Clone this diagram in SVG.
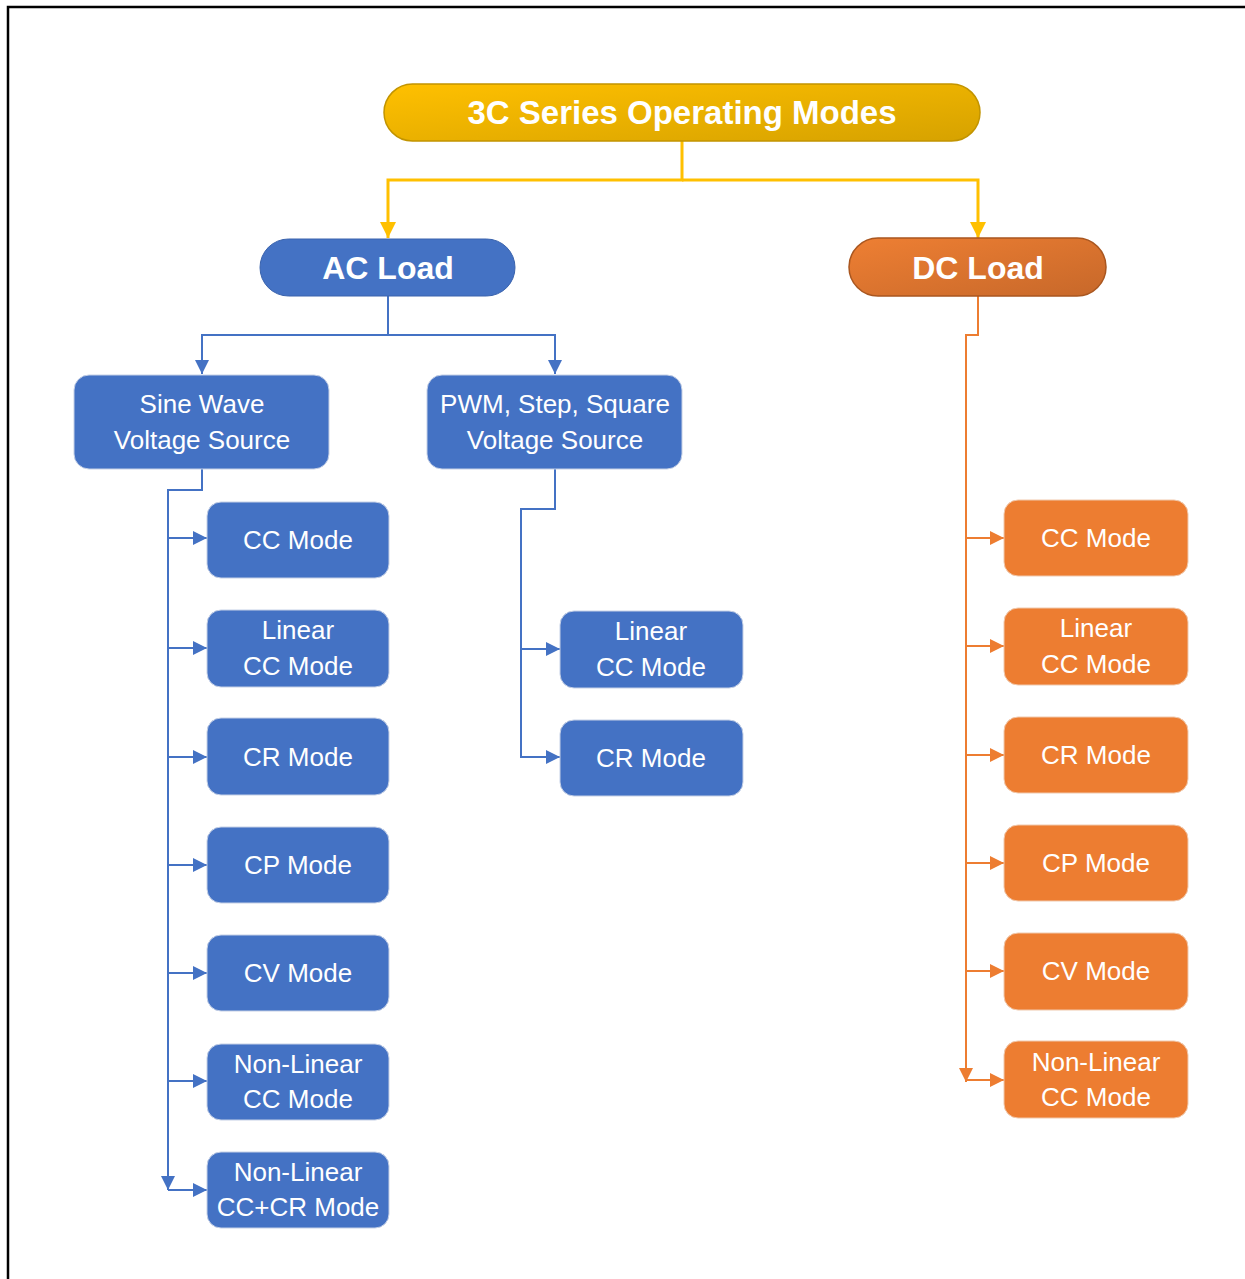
<svg xmlns="http://www.w3.org/2000/svg" width="1245" height="1279" viewBox="0 0 1245 1279">
<style>
.t{font-family:"Liberation Sans",Arial,sans-serif;fill:#fff;text-anchor:middle}
.n{font-size:26px}
.b{font-size:32px;font-weight:bold}
.blue{fill:#4472C4;stroke:#c5d0e6;stroke-width:1}
.org{fill:#ED7D31;stroke:#f0c9ad;stroke-width:1}
.cb{fill:none;stroke:#4472C4;stroke-width:2}
.co{fill:none;stroke:#ED7D31;stroke-width:2}
.cy{fill:none;stroke:#FFC000;stroke-width:3}
</style>
<defs>
<linearGradient id="gy" x1="0" y1="0" x2="1" y2="1">
<stop offset="0" stop-color="#FFC000"/><stop offset="1" stop-color="#D6A200"/>
</linearGradient>
<linearGradient id="go" x1="0" y1="0" x2="1" y2="1">
<stop offset="0" stop-color="#EE7F33"/><stop offset="1" stop-color="#C7682A"/>
</linearGradient>
<marker id="ab" markerUnits="userSpaceOnUse" markerWidth="14" markerHeight="14" refX="14" refY="7" orient="auto">
<path d="M0,0 L14,7 L0,14 z" fill="#4472C4"/>
</marker>
<marker id="ao" markerUnits="userSpaceOnUse" markerWidth="14" markerHeight="14" refX="14" refY="7" orient="auto">
<path d="M0,0 L14,7 L0,14 z" fill="#ED7D31"/>
</marker>
<marker id="ay" markerUnits="userSpaceOnUse" markerWidth="16" markerHeight="16" refX="16" refY="8" orient="auto">
<path d="M0,0 L16,8 L0,16 z" fill="#FFC000"/>
</marker>
</defs>
<rect width="1245" height="1279" fill="#fff"/>
<path d="M8,1279 V7 H1245" fill="none" stroke="#000" stroke-width="2.5"/>

<g id="connectors">
<path class="cy" d="M682,141 V180 H388 V238" marker-end="url(#ay)"/>
<path class="cy" d="M682,180 H978 V238" marker-end="url(#ay)"/>
<path class="cb" d="M388,296 V335 H202 V374" marker-end="url(#ab)"/>
<path class="cb" d="M388,335 H555 V374" marker-end="url(#ab)"/>
<path class="cb" d="M202,469 V490 H168 V1190" marker-end="url(#ab)"/>
<path class="cb" d="M168,538 H207" marker-end="url(#ab)"/>
<path class="cb" d="M168,648 H207" marker-end="url(#ab)"/>
<path class="cb" d="M168,757 H207" marker-end="url(#ab)"/>
<path class="cb" d="M168,865 H207" marker-end="url(#ab)"/>
<path class="cb" d="M168,973 H207" marker-end="url(#ab)"/>
<path class="cb" d="M168,1081 H207" marker-end="url(#ab)"/>
<path class="cb" d="M168,1190 H207" marker-end="url(#ab)"/>
<path class="cb" d="M555,469 V509 H521 V757 H560" marker-end="url(#ab)"/>
<path class="cb" d="M521,649 H560" marker-end="url(#ab)"/>
<path class="co" d="M978,296 V335 H966 V1082" marker-end="url(#ao)"/>
<path class="co" d="M966,538 H1004" marker-end="url(#ao)"/>
<path class="co" d="M966,646 H1004" marker-end="url(#ao)"/>
<path class="co" d="M966,755 H1004" marker-end="url(#ao)"/>
<path class="co" d="M966,863 H1004" marker-end="url(#ao)"/>
<path class="co" d="M966,971 H1004" marker-end="url(#ao)"/>
<path class="co" d="M966,1080 H1004" marker-end="url(#ao)"/>
</g>

<g id="title">
<rect x="384" y="84" width="596" height="57" rx="28.5" fill="url(#gy)" stroke="#C29400" stroke-width="1.5"/>
<text class="t" x="682" y="124" style="font-size:33px;font-weight:bold">3C Series Operating Modes</text>
</g>
<g id="ac-load">
<rect x="260" y="239" width="255" height="57" rx="28.5" fill="#4472C4" stroke="#3a63ad" stroke-width="1"/>
<text class="t b" x="388" y="279">AC Load</text>
</g>
<g id="dc-load">
<rect x="849" y="238" width="257" height="58" rx="29" fill="url(#go)" stroke="#A9561F" stroke-width="1.5"/>
<text class="t b" x="978" y="279">DC Load</text>
</g>
<g id="sine">
<rect class="blue" x="74" y="375" width="255" height="94" rx="15"/>
<text class="t n" x="202" y="413">Sine Wave</text>
<text class="t n" x="202" y="449">Voltage Source</text>
</g>
<g id="pwm">
<rect class="blue" x="427" y="375" width="255" height="94" rx="15"/>
<text class="t n" x="555" y="413">PWM, Step, Square</text>
<text class="t n" x="555" y="449">Voltage Source</text>
</g>

<g id="ac-sine-cc">
<rect class="blue" x="207" y="502" width="182" height="76" rx="14"/>
<text class="t n" x="298" y="549">CC Mode</text>
</g>
<g id="ac-sine-lcc">
<rect class="blue" x="207" y="610" width="182" height="77" rx="14"/>
<text class="t n" x="298" y="639">Linear</text>
<text class="t n" x="298" y="675">CC Mode</text>
</g>
<g id="ac-sine-cr">
<rect class="blue" x="207" y="718" width="182" height="77" rx="14"/>
<text class="t n" x="298" y="766">CR Mode</text>
</g>
<g id="ac-sine-cp">
<rect class="blue" x="207" y="827" width="182" height="76" rx="14"/>
<text class="t n" x="298" y="874">CP Mode</text>
</g>
<g id="ac-sine-cv">
<rect class="blue" x="207" y="935" width="182" height="76" rx="14"/>
<text class="t n" x="298" y="982">CV Mode</text>
</g>
<g id="ac-sine-nlcc">
<rect class="blue" x="207" y="1044" width="182" height="76" rx="14"/>
<text class="t n" x="298" y="1073">Non-Linear</text>
<text class="t n" x="298" y="1108">CC Mode</text>
</g>
<g id="ac-sine-nlcccr">
<rect class="blue" x="207" y="1152" width="182" height="76" rx="14"/>
<text class="t n" x="298" y="1181">Non-Linear</text>
<text class="t n" x="298" y="1216">CC+CR Mode</text>
</g>

<g id="ac-pwm-lcc">
<rect class="blue" x="560" y="611" width="183" height="77" rx="14"/>
<text class="t n" x="651" y="640">Linear</text>
<text class="t n" x="651" y="676">CC Mode</text>
</g>
<g id="ac-pwm-cr">
<rect class="blue" x="560" y="720" width="183" height="76" rx="14"/>
<text class="t n" x="651" y="767">CR Mode</text>
</g>

<g id="dc-cc">
<rect class="org" x="1004" y="500" width="184" height="76" rx="14"/>
<text class="t n" x="1096" y="547">CC Mode</text>
</g>
<g id="dc-lcc">
<rect class="org" x="1004" y="608" width="184" height="77" rx="14"/>
<text class="t n" x="1096" y="637">Linear</text>
<text class="t n" x="1096" y="673">CC Mode</text>
</g>
<g id="dc-cr">
<rect class="org" x="1004" y="717" width="184" height="76" rx="14"/>
<text class="t n" x="1096" y="764">CR Mode</text>
</g>
<g id="dc-cp">
<rect class="org" x="1004" y="825" width="184" height="76" rx="14"/>
<text class="t n" x="1096" y="872">CP Mode</text>
</g>
<g id="dc-cv">
<rect class="org" x="1004" y="933" width="184" height="77" rx="14"/>
<text class="t n" x="1096" y="980">CV Mode</text>
</g>
<g id="dc-nlcc">
<rect class="org" x="1004" y="1041" width="184" height="77" rx="14"/>
<text class="t n" x="1096" y="1071">Non-Linear</text>
<text class="t n" x="1096" y="1106">CC Mode</text>
</g>
</svg>
